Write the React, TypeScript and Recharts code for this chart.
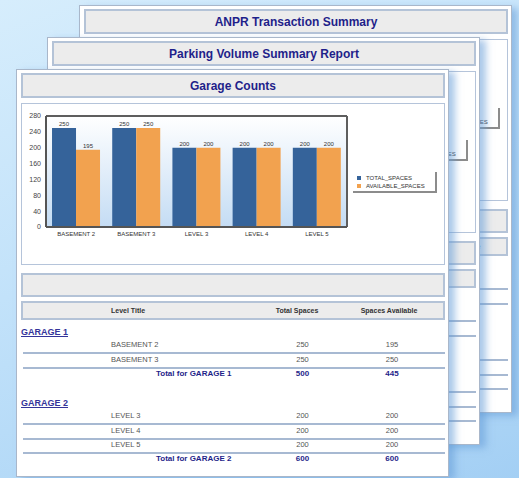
import React from 'react';
import { BarChart, Bar, XAxis, YAxis, CartesianGrid, LabelList, Legend } from 'recharts';

const levels = ['BASEMENT 2', 'BASEMENT 3', 'LEVEL 3', 'LEVEL 4', 'LEVEL 5'];
const totalSpaces = [250, 250, 200, 200, 200];
const availableSpaces = [195, 250, 200, 200, 200];
const garageNames = ['GARAGE 1', 'GARAGE 2'];
const garageLevels = [[0, 1], [2, 3, 4]];
const yTicks = [0, 40, 80, 120, 160, 200, 240, 280];
const seriesNames = ['TOTAL_SPACES', 'AVAILABLE_SPACES'];
const pageTitles = ['ANPR Transaction Summary', 'Parking Volume Summary Report', 'Garage Counts'];
const tableHeaders = ['Level Title', 'Total Spaces', 'Spaces Available'];

const BLUE = '#35639a';
const ORANGE = '#f2a24f';
const seriesColors = [BLUE, ORANGE];
const FONT = '"Liberation Sans", Arial, Helvetica, sans-serif';
const NAVY = '#1f1f8a';

const chartData = levels.map((name, i) => ({ name, total: totalSpaces[i], available: availableSpaces[i] }));

type Item = { value: string; color: string };

const LegendBox = ({ items }: { items: Item[] }) => (
  <div style={{ position: 'relative', width: 84, height: 21, boxSizing: 'border-box', borderRight: '2px solid #8c8c8c', borderBottom: '2px solid #8c8c8c', fontFamily: FONT }}>
    {items.map((it, i) => (
      <div key={it.value} style={{ position: 'absolute', left: 4, top: 2 + i * 8, height: 8, display: 'flex', alignItems: 'center', whiteSpace: 'nowrap' }}>
        <span style={{ display: 'inline-block', width: 4, height: 4, background: it.color, marginRight: 5 }} />
        <span style={{ fontSize: 6, color: '#333', lineHeight: '8px' }}>{it.value}</span>
      </div>
    ))}
  </div>
);

const staticItems: Item[] = seriesNames.map((n, i) => ({ value: n, color: seriesColors[i] }));

const grayBox = (top: number, height: number, key: string) => (
  <div key={key} style={{ position: 'absolute', left: 4, top, width: 424, height, boxSizing: 'border-box', background: '#ececec', border: '2px solid #b4c3d7' }} />
);

const lineYs = [282, 296.5, 353, 367.5, 382];

const Chart = () => (
  <BarChart width={424} height={162} data={chartData} margin={{ top: 13, right: 98, bottom: 3, left: 5 }} barCategoryGap="10%" barGap={0}>
    <defs>
      <linearGradient id="plotBg" x1="0" y1="0" x2="0" y2="1">
        <stop offset="0%" stopColor="#ffffff" />
        <stop offset="100%" stopColor="#c4dcf4" />
      </linearGradient>
    </defs>
    <CartesianGrid
      fill="url(#plotBg)"
      stroke="#5e5e5e"
      strokeWidth={2}
      horizontalCoordinatesGenerator={(p: any) => [p.offset.top]}
      verticalCoordinatesGenerator={(p: any) => [p.offset.left + p.offset.width]}
    />
    <XAxis dataKey="name" tick={{ fontSize: 6, fill: '#333' }} tickLine={false} axisLine={{ stroke: '#555', strokeWidth: 2 }} height={14} interval={0} tickSize={3} tickMargin={2} />
    <YAxis domain={[0, 280]} ticks={yTicks} tick={{ fontSize: 7, fill: '#444' }} tickLine={false} axisLine={{ stroke: '#555', strokeWidth: 2 }} width={20} tickSize={3} tickMargin={2} interval={0} />
    <Bar dataKey="total" name={seriesNames[0]} fill={BLUE} isAnimationActive={false}>
      <LabelList dataKey="total" position="top" offset={2} style={{ fontSize: 6, fill: '#333' }} />
    </Bar>
    <Bar dataKey="available" name={seriesNames[1]} fill={ORANGE} isAnimationActive={false}>
      <LabelList dataKey="available" position="top" offset={2} style={{ fontSize: 6, fill: '#333' }} />
    </Bar>
    <Legend
      wrapperStyle={{ position: 'absolute', left: 332, top: 69, width: 84, height: 21 }}
      content={() => <LegendBox items={staticItems} />}
    />
  </BarChart>
);

const textAt = (x: number, y: number, content: React.ReactNode, style: React.CSSProperties, align: 'left' | 'center' = 'left', key?: string) => (
  <div key={key} style={{ position: 'absolute', left: align === 'center' ? x - 40 : x, top: y - 6, width: align === 'center' ? 80 : undefined, height: 12, lineHeight: '12px', textAlign: align, whiteSpace: 'nowrap', ...style }}>{content}</div>
);

const rowText: React.CSSProperties = { fontSize: 7.5, color: '#555' };
const totalText: React.CSSProperties = { fontSize: 8, color: NAVY, fontWeight: 'bold' };
const headText: React.CSSProperties = { fontSize: 7, color: '#333', fontWeight: 'bold' };

const Table = () => {
  const els: React.ReactNode[] = [];
  let y = 262;
  garageLevels.forEach((idxs, g) => {
    els.push(textAt(4, y, garageNames[g], { fontSize: 9, fontWeight: 'bold', color: '#34349a', textDecoration: 'underline' }, 'left', 'g' + g));
    let ry = y + 13;
    let sumT = 0;
    let sumA = 0;
    idxs.forEach((ix) => {
      els.push(textAt(94, ry, levels[ix], rowText, 'left', 'n' + ix));
      els.push(textAt(285.5, ry, totalSpaces[ix], rowText, 'center', 't' + ix));
      els.push(textAt(375, ry, availableSpaces[ix], rowText, 'center', 'a' + ix));
      sumT += totalSpaces[ix];
      sumA += availableSpaces[ix];
      ry += 14.5;
    });
    els.push(textAt(139, ry - 0.5, 'Total for ' + garageNames[g], totalText, 'left', 'tl' + g));
    els.push(textAt(285.5, ry - 0.5, sumT, totalText, 'center', 'tt' + g));
    els.push(textAt(375, ry - 0.5, sumA, totalText, 'center', 'ta' + g));
    y = ry + 29;
  });
  return <>{els}</>;
};

const Page = ({ left, top, title, front }: { left: number; top: number; title: string; front?: boolean }) => (
  <div style={{ position: 'absolute', left, top, width: 433, height: 408, boxSizing: 'border-box', background: '#ffffff', border: '1px solid #a9b7ca', boxShadow: '6px 3px 7px rgba(100,155,215,0.55)', fontFamily: FONT }}>
    <div style={{ position: 'absolute', left: 4, top: 3, width: 424, height: 25, boxSizing: 'border-box', background: '#ececec', border: '2px solid #b4c3d7', display: 'flex', alignItems: 'center', justifyContent: 'center', color: NAVY, fontWeight: 'bold', fontSize: 12 }}>{title}</div>
    <div style={{ position: 'absolute', left: 4, top: 33, width: 424, height: 162, boxSizing: 'border-box', background: '#ffffff', border: '1px solid #b5c4da' }} />
    {front ? (
      <div style={{ position: 'absolute', left: 4, top: 33 }}>
        <Chart />
      </div>
    ) : (
      <div style={{ position: 'absolute', left: 336, top: 102 }}>
        <LegendBox items={staticItems} />
      </div>
    )}
    {grayBox(203, 24, 'gb1')}
    {grayBox(231, 19, 'gb2')}
    {textAt(94, 241, tableHeaders[0], headText, 'left', 'h0')}
    {textAt(280, 241, tableHeaders[1], headText, 'center', 'h1')}
    {textAt(372, 241, tableHeaders[2], headText, 'center', 'h2')}
    {lineYs.map((ly) => (
      <div key={ly} style={{ position: 'absolute', left: 6, top: ly, width: 422, height: 2, background: '#a7b9d2' }} />
    ))}
    {front ? <Table /> : null}
  </div>
);

export default function App() {
  return (
    <div style={{ position: 'fixed', left: 0, top: 0, width: 519, height: 478, overflow: 'hidden', background: 'linear-gradient(160deg, #d6edfc 0%, #c2e2fa 45%, #b3d9f7 75%, #a3cff4 100%)' }}>
      <Page left={79} top={5} title={pageTitles[0]} />
      <Page left={47} top={37} title={pageTitles[1]} />
      <Page left={16} top={69} title={pageTitles[2]} front />
    </div>
  );
}
